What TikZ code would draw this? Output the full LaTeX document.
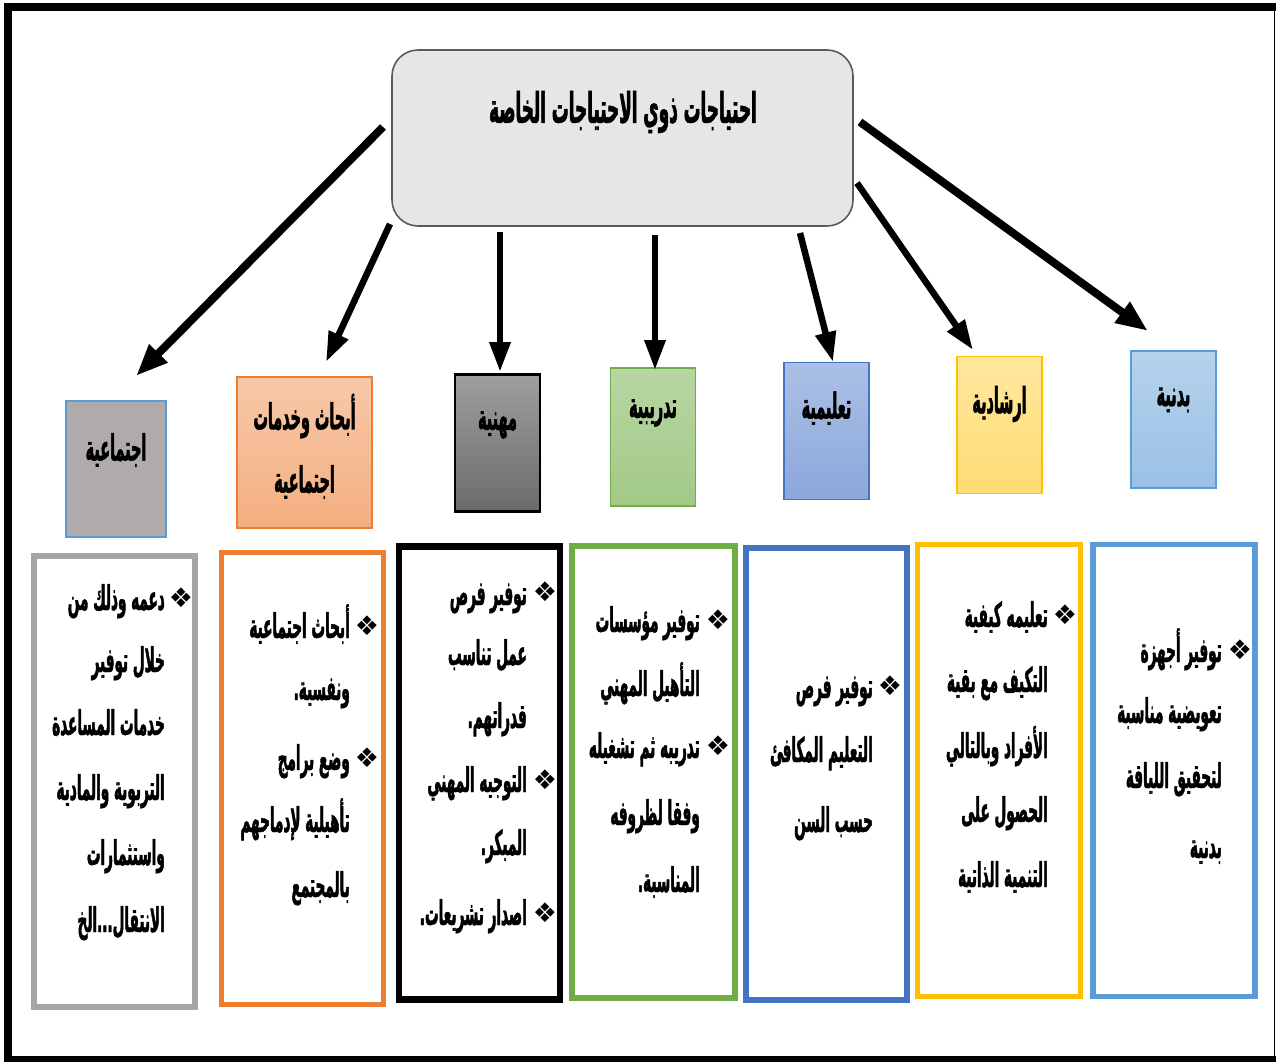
\documentclass[tikz,border=0pt]{standalone}
\usepackage{fontspec}
\usetikzlibrary{arrows.meta}
\TeXXeTstate=1
\newfontfamily\arf[Script=Arabic,FakeStretch=0.40,FakeBold=1.3]{DejaVu Sans}
\newfontfamily\symf{DejaVu Sans}
\newcommand\pd{\hbox{.}}
\definecolor{topfill}{HTML}{E7E6E6}
\definecolor{topline}{HTML}{5A5A5A}
\definecolor{cgray}{HTML}{AFABAB}
\definecolor{lblue}{HTML}{5B9BD5}
\definecolor{orng}{HTML}{ED7D31}
\definecolor{grn}{HTML}{70AD47}
\definecolor{dblue}{HTML}{4472C4}
\definecolor{gold}{HTML}{FFC000}
\definecolor{bgray}{HTML}{A6A6A6}
\tikzset{
  arr/.style={line width=6.5pt,-{Triangle[length=30pt,width=20pt]}},
  arrw/.style={line width=8pt,-{Triangle[length=32pt,width=24pt]}},
  catbox/.style={rectangle,inner sep=0pt,line width=1.6pt},
  detbox/.style={rectangle,inner sep=0pt,line width=5.5pt,fill=white},
  heading/.style={font=\arf\bfseries\fontsize{42}{48}\selectfont,inner sep=0pt},
  catlbl/.style={font=\arf\bfseries\fontsize{36}{42}\selectfont,inner sep=0pt},
  ltx/.style={font=\arf\bfseries\fontsize{34}{38}\selectfont,inner sep=0pt,anchor=base east},
  bulx/.style={font=\symf\fontsize{27}{27}\selectfont,inner sep=0pt}
}
\newcommand\tl[4]{\node[ltx] (#1) at (#2,#3) {#4};}
\newcommand\bl[3]{\node[bulx] (#1) at (#2,#3) {❖};}
\begin{document}
\begin{tikzpicture}[x=1pt,y=-1pt]
\useasboundingbox (0,0) rectangle (1276,1061);
\fill[white] (0,0) rectangle (1276,1061);
% outer frame
\draw[line width=8pt] (8,1061) -- (8,7) -- (1276,7);
\draw[line width=6pt] (4,1059) -- (1276,1059);
\draw[line width=1.2pt] (1274.5,7) -- (1274.5,1059);

% top box
\node[rectangle,rounded corners=26pt,draw=topline,line width=1.6pt,fill=topfill,
  minimum width=461pt,minimum height=176pt,inner sep=0pt] (top) at (622.5,138) {};
\node[heading] (head) at (623,112) {\beginR احتياجات ذوي الاحتياجات الخاصة\endR};

% category boxes
\node[catbox,draw=lblue,fill=cgray,minimum width=100pt,minimum height=136pt] (c1) at (116,469) {};
\node[catbox,draw=orng,top color=orng!42!white,bottom color=orng!62!white,minimum width=135pt,minimum height=151pt] (c2) at (304.5,452.5) {};
\node[catbox,draw=black,line width=2.5pt,top color=black!38,bottom color=black!58,minimum width=85pt,minimum height=137pt] (c3) at (497.5,443) {};
\node[catbox,draw=grn,top color=grn!50!white,bottom color=grn!65!white,minimum width=85pt,minimum height=138pt] (c4) at (653,437) {};
\node[catbox,draw=dblue,top color=dblue!45!white,bottom color=dblue!62!white,minimum width=85pt,minimum height=137pt] (c5) at (826.5,431) {};
\node[catbox,draw=gold,top color=gold!38!white,bottom color=gold!55!white,minimum width=85pt,minimum height=137pt] (c6) at (999.5,425) {};
\node[catbox,draw=lblue,top color=lblue!45!white,bottom color=lblue!62!white,minimum width=85pt,minimum height=137pt] (c7) at (1173.5,419.5) {};

\node[catlbl] (l1) at (116,450) {\beginR اجتماعية\endR};
\node[catlbl] (l2a) at (304.5,416) {\beginR أبحاث وخدمات\endR};
\node[catlbl] (l2b) at (304.5,482) {\beginR اجتماعية\endR};
\node[catlbl] (l3) at (497.5,425) {\beginR مهنية\endR};
\node[catlbl] (l4) at (653,413) {\beginR تدريبية\endR};
\node[catlbl] (l5) at (826.5,408) {\beginR تعليمية\endR};
\node[catlbl] (l6) at (999.5,404) {\beginR ارشادية\endR};
\node[catlbl] (l7) at (1173.5,400) {\beginR بدنية\endR};

% arrows
\coordinate (s1) at (383,127); \coordinate (e1) at (136,376);
\coordinate (s2) at (390,224); \coordinate (e2) at (326,362);
\coordinate (s3) at (500,232); \coordinate (e3) at (500,372);
\coordinate (s4) at (655,235); \coordinate (e4) at (655,370);
\coordinate (s5) at (800,233); \coordinate (e5) at (833,362);
\coordinate (s6) at (857,183); \coordinate (e6) at (973,350);
\coordinate (s7) at (860,122); \coordinate (e7) at (1148,331);
\draw[arrw] (s1) -- (e1);
\draw[arr] (s2) -- (e2);
\draw[arr] (s3) -- (e3);
\draw[arr] (s4) -- (e4);
\draw[arr] (s5) -- (e5);
\draw[arr] (s6) -- (e6);
\draw[arrw] (s7) -- (e7);

% detail boxes
\node[detbox,draw=bgray,minimum width=161pt,minimum height=451pt] (d1) at (114.5,781.5) {};
\node[detbox,draw=orng,minimum width=162pt,minimum height=452pt] (d2) at (302.5,778.5) {};
\node[detbox,draw=black,line width=6.5pt,minimum width=161pt,minimum height=453pt] (d3) at (479.5,773) {};
\node[detbox,draw=grn,minimum width=163pt,minimum height=452pt] (d4) at (653.5,772) {};
\node[detbox,draw=dblue,minimum width=161pt,minimum height=452pt] (d5) at (826.5,774) {};
\node[detbox,draw=gold,minimum width=163pt,minimum height=452pt] (d6) at (999,770.5) {};
\node[detbox,draw=lblue,minimum width=162pt,minimum height=452pt] (d7) at (1174,770.5) {};

% texts: gray box
\bl{b11}{181}{598}
\tl{t11}{165}{610}{\beginR دعمه وذلك من\endR}
\tl{t12}{165}{672}{\beginR خلال توفير\endR}
\tl{t13}{165}{735}{\beginR خدمات المساعدة\endR}
\tl{t14}{165}{800}{\beginR التربوية والمادية\endR}
\tl{t15}{165}{865}{\beginR واستثمارات\endR}
\tl{t16}{165}{932}{\beginR الانتقال\hbox{...}الخ\endR}
% orange box
\bl{b21}{367}{626}
\bl{b22}{367}{758}
\tl{t21}{350}{638}{\beginR أبحاث اجتماعية\endR}
\tl{t22}{350}{700}{\beginR ونفسية\pd\endR}
\tl{t23}{350}{770}{\beginR وضع برامج\endR}
\tl{t24}{350}{832}{\beginR تأهيلية لإدماجهم\endR}
\tl{t25}{350}{897}{\beginR بالمجتمع\endR}
% black box
\bl{b31}{545}{592}
\bl{b32}{545}{780}
\bl{b33}{545}{913}
\tl{t31}{527}{605}{\beginR توفير فرص\endR}
\tl{t32}{527}{665}{\beginR عمل تناسب\endR}
\tl{t33}{527}{728}{\beginR قدراتهم\pd\endR}
\tl{t34}{527}{792}{\beginR التوجيه المهني\endR}
\tl{t35}{527}{855}{\beginR المبكر\pd\endR}
\tl{t36}{527}{925}{\beginR اصدار تشريعات\pd\endR}
% green box
\bl{b41}{718}{620}
\bl{b42}{718}{746}
\tl{t41}{700}{632}{\beginR توفير مؤسسات\endR}
\tl{t42}{700}{696}{\beginR التأهيل المهني\endR}
\tl{t43}{700}{758}{\beginR تدريبه ثم تشغيله\endR}
\tl{t44}{700}{825}{\beginR وفقا لظروفه\endR}
\tl{t45}{700}{892}{\beginR المناسبة\pd\endR}
% blue box
\bl{b51}{890}{686}
\tl{t51}{873}{698}{\beginR توفير فرص\endR}
\tl{t52}{873}{762}{\beginR التعليم المكافئ\endR}
\tl{t53}{873}{832}{\beginR حسب السن\endR}
% gold box
\bl{b61}{1065}{615}
\tl{t61}{1048}{627}{\beginR تعليمه كيفية\endR}
\tl{t62}{1048}{692}{\beginR التكيف مع بقية\endR}
\tl{t63}{1048}{758}{\beginR الأفراد وبالتالي\endR}
\tl{t64}{1048}{822}{\beginR الحصول على\endR}
\tl{t65}{1048}{887}{\beginR التنمية الذاتية\endR}
% light blue box
\bl{b71}{1240}{650}
\tl{t71}{1222}{662}{\beginR توفير أجهزة\endR}
\tl{t72}{1222}{723}{\beginR تعويضية مناسبة\endR}
\tl{t73}{1222}{788}{\beginR لتحقيق اللياقة\endR}
\tl{t74}{1222}{858}{\beginR بدنية\endR}
\end{tikzpicture}
\end{document}
